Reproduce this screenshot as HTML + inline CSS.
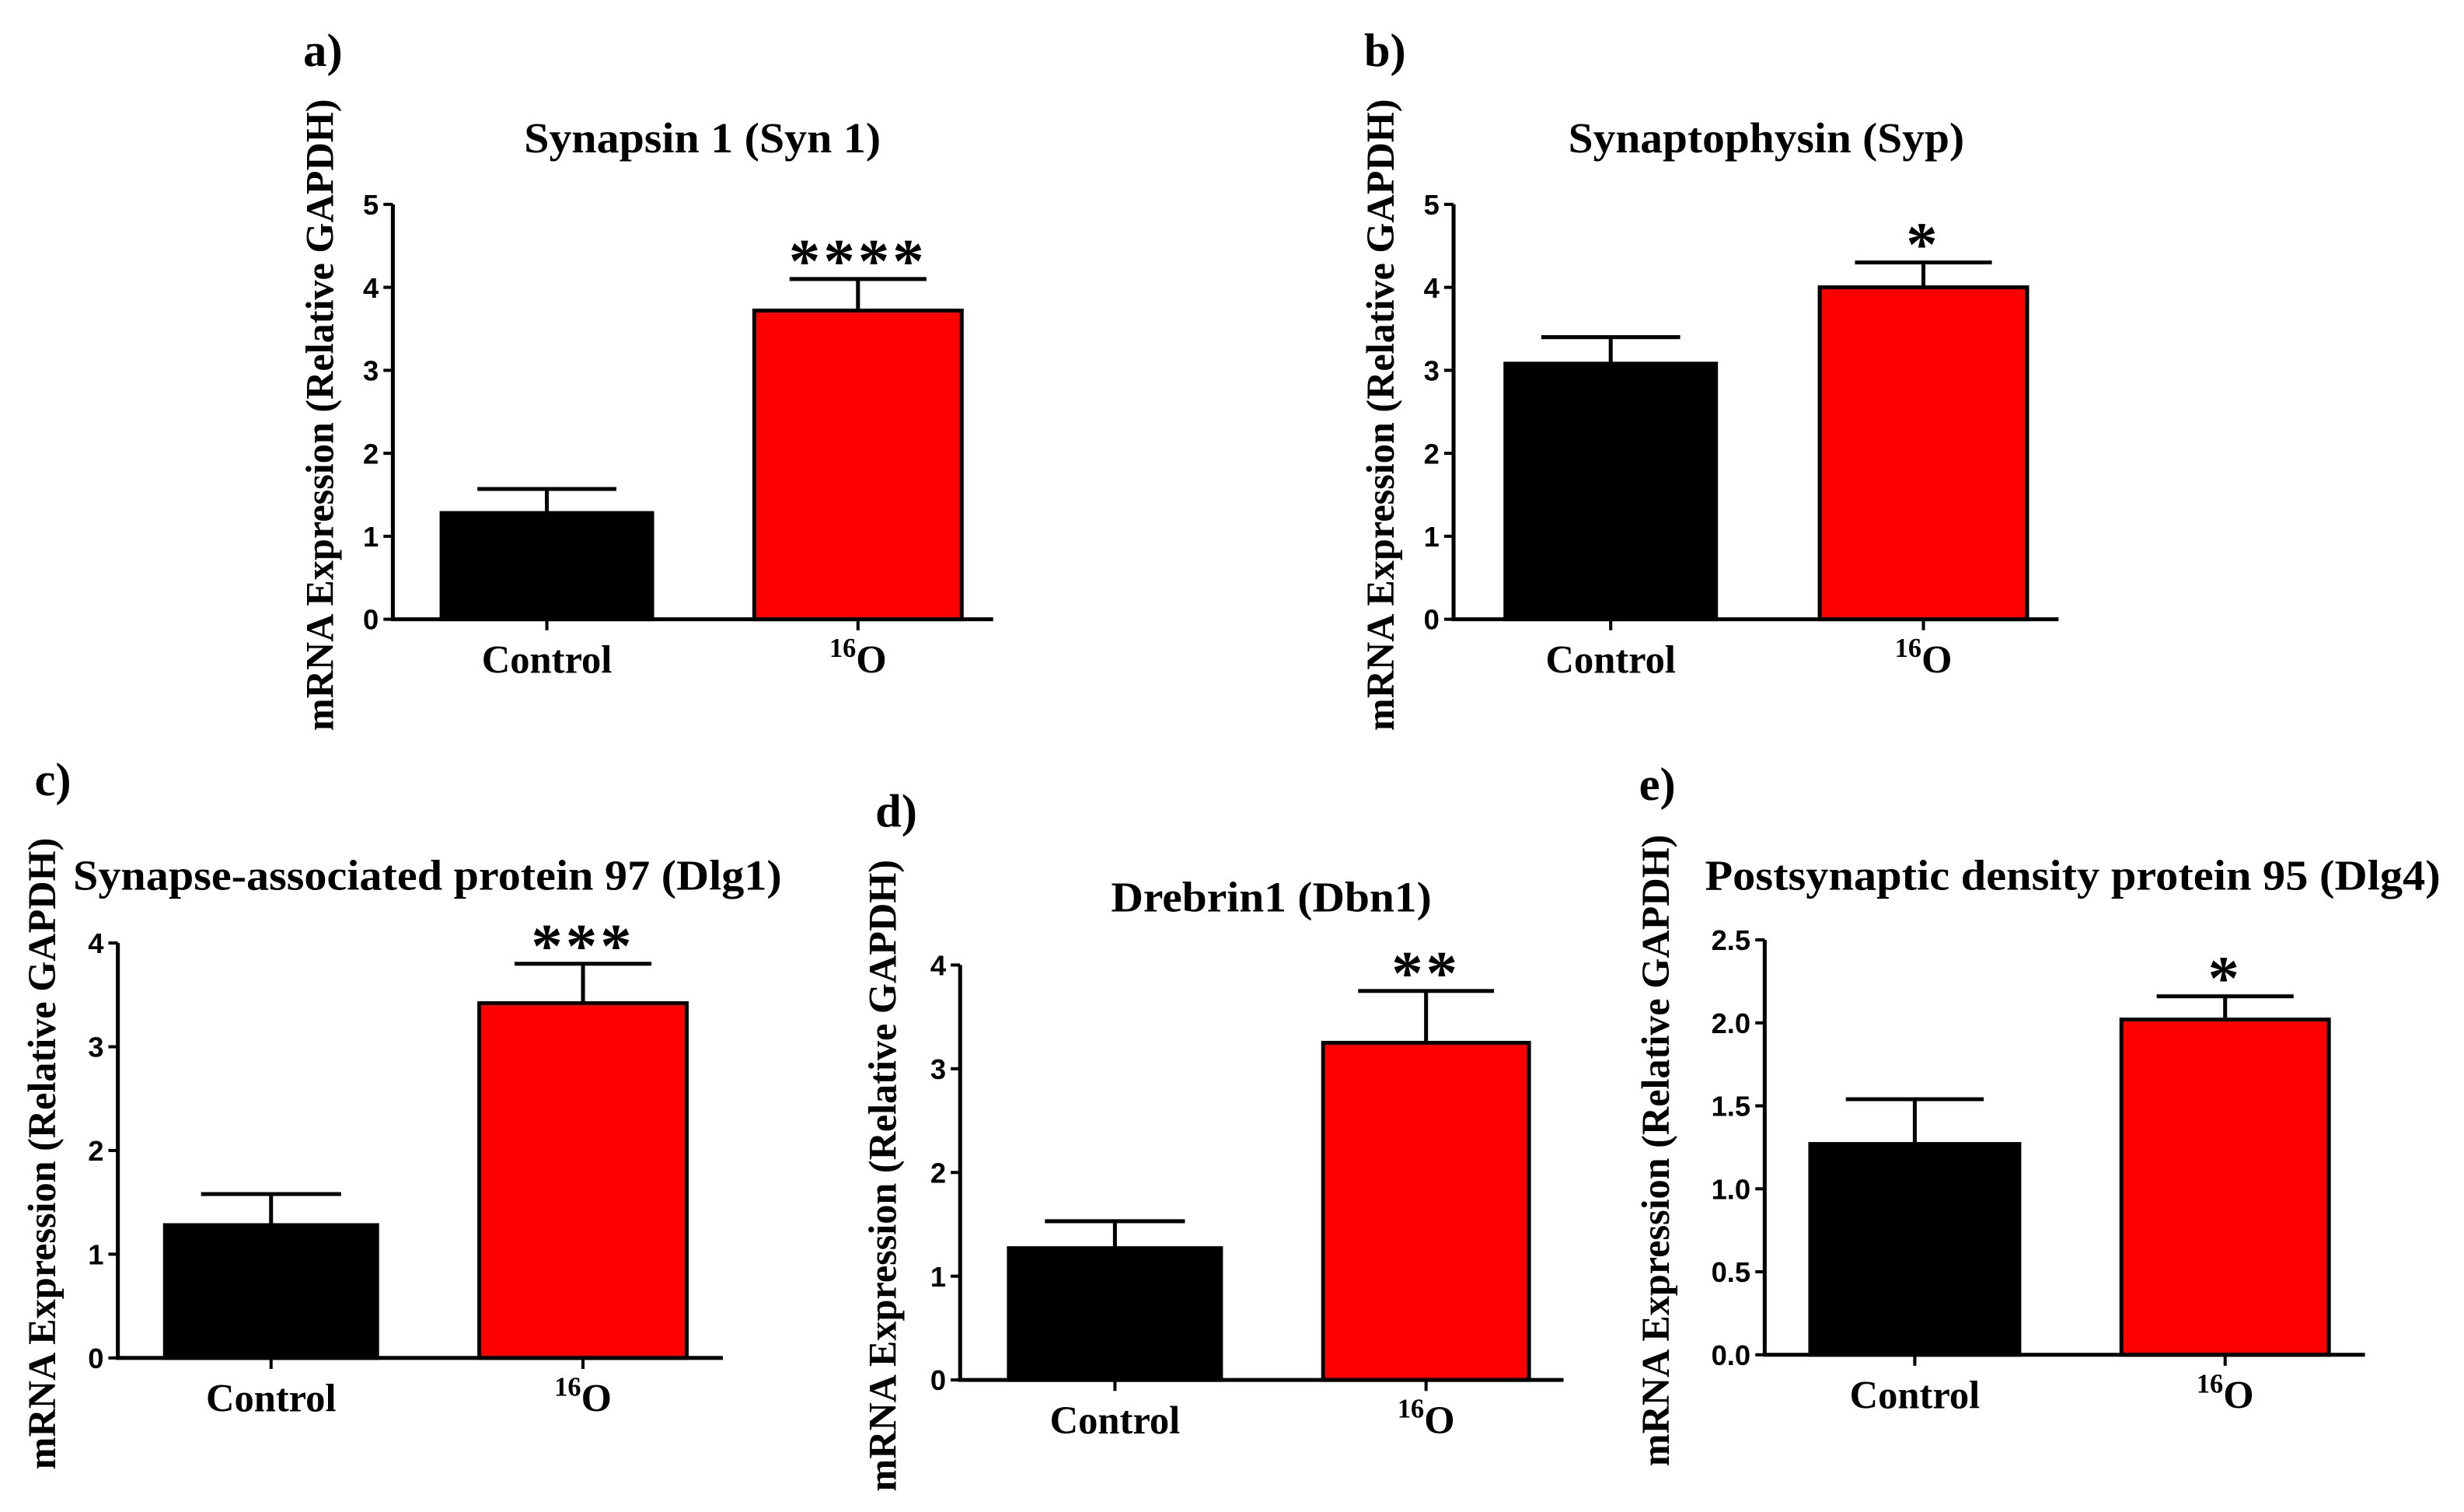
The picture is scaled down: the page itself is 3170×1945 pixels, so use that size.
<!DOCTYPE html>
<html><head><meta charset="utf-8"><style>
html,body{margin:0;padding:0;background:#fff;}
svg{display:block;}
text{font-family:"Liberation Serif",serif;font-weight:bold;fill:#000;}
.tick{font-family:"Liberation Sans",sans-serif;font-weight:bold;}
</style></head><body>
<svg id="fig" width="3170" height="1945" viewBox="0 0 1568 962" xmlns="http://www.w3.org/2000/svg"></svg>
<script>
const panelIds = ['a','b','c','d','e'];
const panelTitles = ['Synapsin 1 (Syn 1)','Synaptophysin (Syp)','Synapse-associated protein 97 (Dlg1)','Drebrin1 (Dbn1)','Postsynaptic density protein 95 (Dlg4)'];
const categories = ['Control','16O'];
const controlValues = [1.28, 3.08, 1.28, 1.27, 1.27];
const controlErrors = [0.29, 0.32, 0.30, 0.26, 0.27];
const o16Values = [3.72, 4.0, 3.42, 3.25, 2.02];
const o16Errors = [0.38, 0.30, 0.38, 0.50, 0.14];
const stars = ['****','*','***','**','*'];
const yMax = [5,5,4,4,2.5];
const yStep = [1,1,1,1,0.5];
const tickDecimals = [0,0,0,0,1];

// layout (not data)
const L = [
 {ax:250,top:130,bot:394,xr:632,b1:[281,415],b2:[480,612],lab:[193,42],tx:447,ty:97,tw:227,tf:27,yl:212},
 {ax:925,top:130,bot:394,xr:1310,b1:[958,1092],b2:[1158,1290],lab:[868,42],tx:1124,ty:97,tw:252,tf:27,yl:887},
 {ax:75,top:600,bot:864,xr:460,b1:[105,240],b2:[305,437],lab:[22,506],tx:272,ty:566,tw:451,tf:27,yl:35},
 {ax:611,top:614,bot:878,xr:995,b1:[642,777],b2:[842,973],lab:[557,526],tx:809,ty:580,tw:204,tf:27,yl:570},
 {ax:1123,top:598,bot:862,xr:1505,b1:[1152,1285],b2:[1350,1482],lab:[1043,509],tx:1319,ty:566,tw:468,tf:27,yl:1062}
];
const NS='http://www.w3.org/2000/svg';
const svg=document.getElementById('fig');
function mk(tag,attrs,parent){const e=document.createElementNS(NS,tag);for(const k in attrs)e.setAttribute(k,attrs[k]);(parent||svg).appendChild(e);return e;}

panelIds.forEach((id,i)=>{
  const l=L[i];
  const g=mk('g',{});
  
  
  const y=v=>l.bot-(v/yMax[i])*(l.bot-l.top);
  const pl=mk('text',{x:l.lab[0],y:l.lab[1],'font-size':30},g);pl.textContent=id+')';
  
  
  const t=mk('text',{x:l.tx-l.tw/2,y:l.ty,'font-size':l.tf,textLength:l.tw,lengthAdjust:'spacingAndGlyphs'},g);t.textContent=panelTitles[i];
  
  
  const yl=mk('text',{x:0,y:0,'font-size':25,'text-anchor':'middle',textLength:402,lengthAdjust:'spacingAndGlyphs',transform:`translate(${l.yl},${(l.top+l.bot)/2+2}) rotate(-90)`},g);
  yl.textContent='mRNA Expression (Relative GAPDH)';
  
  
  const bars=[[l.b1,controlValues[i],controlErrors[i],'#000'],[l.b2,o16Values[i],o16Errors[i],'#ff0000']];
  bars.forEach((b,j)=>{
    const cx=(b[0][0]+b[0][1])/2, hw=(b[0][1]-b[0][0])*0.33;
    const eb=mk('path',{d:`M${cx},${y(b[1])} V${y(b[1]+b[2])} M${cx-hw},${y(b[1]+b[2])} H${cx+hw}`,stroke:'#000','stroke-width':2.5,fill:'none'},g);
    
    
    const r=mk('rect',{x:b[0][0],y:y(b[1]),width:b[0][1]-b[0][0],height:l.bot-y(b[1]),fill:b[3],stroke:'#000','stroke-width':2.5},g);
    
    
    mk('line',{x1:cx,x2:cx,y1:l.bot,y2:l.bot+7,stroke:'#000','stroke-width':2},g);
    const lab=mk('text',{x:cx,y:l.bot+34,'font-size':25,'text-anchor':'middle'},g);
    if(categories[j]==='Control'){lab.textContent='Control';}
    else{const s=mk('tspan',{'font-size':17,dy:-10},lab);s.textContent='16';const o=mk('tspan',{dy:10},lab);o.textContent='O';}
    
    
    if(j===1){const st=mk('text',{x:cx,y:y(b[1]+b[2])+2,'font-size':40,'font-weight':'normal','text-anchor':'middle','letter-spacing':2},g);st.textContent=stars[i];
      
      }
  });
  const ax=mk('path',{d:`M${l.ax},${l.top} V${l.bot} H${l.xr}`,stroke:'#000','stroke-width':2.5,fill:'none'},g);
  
  
  for(let v=0;v<=yMax[i]+1e-9;v+=yStep[i]){
    mk('line',{x1:l.ax-6,x2:l.ax,y1:y(v),y2:y(v),stroke:'#000','stroke-width':2},g);
    const tl=mk('text',{x:l.ax-9,y:y(v)+6.5,'font-size':18,'text-anchor':'end',class:'tick'},g);
    tl.textContent=v.toFixed(tickDecimals[i]);
    
    
  }
});
</script>
</body></html>
